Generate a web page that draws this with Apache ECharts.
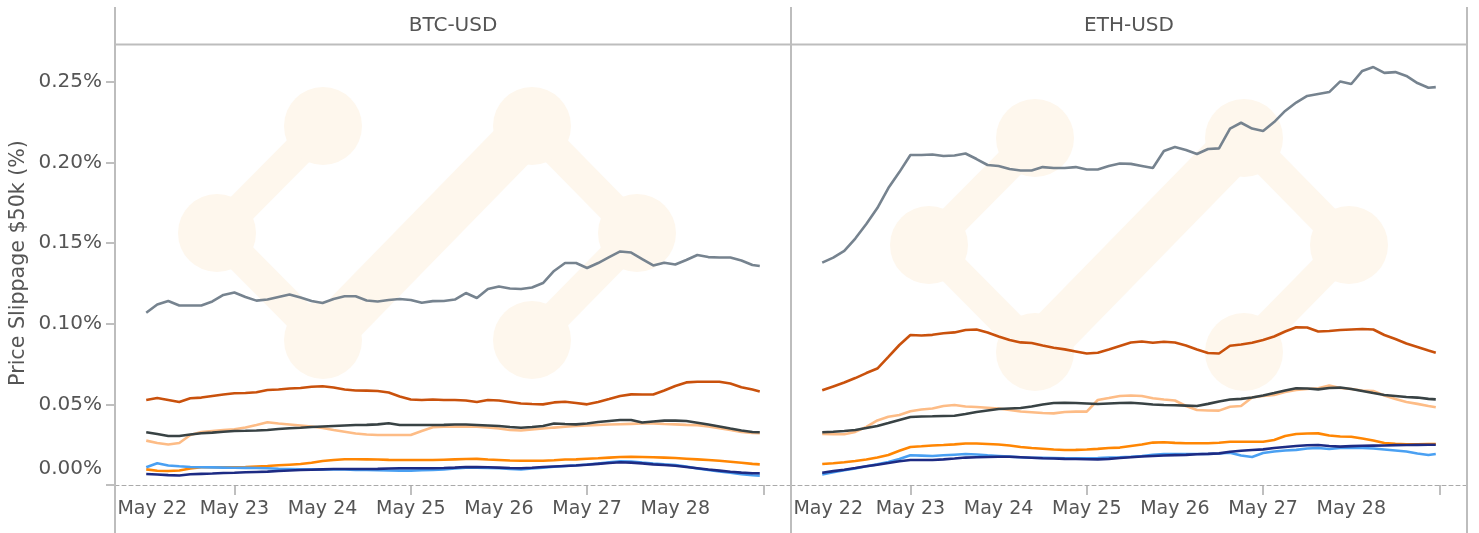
<!DOCTYPE html>
<html>
<head>
<meta charset="utf-8">
<script src="https://cdn.jsdelivr.net/npm/echarts@6/dist/echarts.min.js"></script>
<style>html,body{margin:0;padding:0;background:#fff}#c{width:1479px;height:533px}</style>
</head>
<body>
<div id="c"></div>
<script>
// Panels
const PAIRS = ['BTC-USD', 'ETH-USD'];
// Day labels on the x axis
const X_TICK_LABELS = ['May 22', 'May 23', 'May 24', 'May 25', 'May 26', 'May 27', 'May 28'];
// y tick values (in %)
const Y_TICKS = [0, 0.05, 0.10, 0.15, 0.20, 0.25];
// sample times: hours after May 22 00:00
const HOURS = [0,3,6,9,12,15,18,21,24,27,30,33,36,39,42,45,48,51,54,57,60,63,66,69,72,75,78,81,84,87,90,93,96,99,102,105,108,111,114,117,120,123,126,129,132,135,138,141,144,147,150,153,156,159,162,165,167];

// BTC-USD series (price slippage, %)
const BTC_GRAY = [0.1068,0.1119,0.1141,0.1113,0.1113,0.1113,0.1138,0.1178,0.1193,0.1166,
0.1143,0.1150,0.1166,0.1181,0.1162,0.1141,0.1128,0.1153,0.1170,0.1170,
0.1144,0.1138,0.1147,0.1153,0.1147,0.1130,0.1140,0.1141,0.1150,0.1190,
0.1159,0.1215,0.1231,0.1218,0.1215,0.1224,0.1252,0.1327,0.1376,0.1376,
0.1345,0.1376,0.1413,0.1448,0.1441,0.1401,0.1361,0.1378,0.1367,0.1395,
0.1426,0.1413,0.1410,0.1410,0.1392,0.1364,0.1358];
const BTC_DKORANGE = [0.0527,0.0539,0.0527,0.0515,0.0538,0.0542,0.0552,0.0561,0.0569,0.0570,
0.0575,0.0589,0.0592,0.0598,0.0601,0.0609,0.0612,0.0604,0.0592,0.0586,
0.0585,0.0583,0.0573,0.0549,0.0530,0.0527,0.0530,0.0527,0.0527,0.0524,
0.0515,0.0527,0.0524,0.0515,0.0505,0.0502,0.0500,0.0512,0.0516,0.0508,
0.0500,0.0515,0.0533,0.0552,0.0562,0.0561,0.0561,0.0586,0.0614,0.0636,
0.0640,0.0640,0.0640,0.0629,0.0606,0.0592,0.0580];
const BTC_PEACH = [0.0275,0.0260,0.0251,0.0260,0.0310,0.0329,0.0335,0.0341,0.0346,0.0356,
0.0372,0.0389,0.0381,0.0375,0.0369,0.0363,0.0353,0.0341,0.0330,0.0319,
0.0313,0.0310,0.0310,0.0310,0.0310,0.0335,0.0358,0.0361,0.0362,0.0362,
0.0362,0.0356,0.0350,0.0341,0.0338,0.0344,0.0350,0.0356,0.0361,0.0366,
0.0369,0.0372,0.0375,0.0377,0.0379,0.0381,0.0381,0.0378,0.0376,0.0373,
0.0371,0.0363,0.0352,0.0341,0.0329,0.0322,0.0321];
const BTC_DKGRAY = [0.0327,0.0316,0.0304,0.0304,0.0313,0.0321,0.0325,0.0330,0.0335,0.0336,
0.0338,0.0341,0.0347,0.0352,0.0355,0.0360,0.0363,0.0366,0.0369,0.0372,
0.0373,0.0376,0.0383,0.0372,0.0372,0.0372,0.0372,0.0373,0.0375,0.0375,
0.0372,0.0369,0.0366,0.0360,0.0355,0.0360,0.0366,0.0381,0.0378,0.0376,
0.0381,0.0391,0.0397,0.0403,0.0403,0.0387,0.0394,0.0399,0.0399,0.0397,
0.0386,0.0375,0.0363,0.0350,0.0338,0.0329,0.0327];
const BTC_ORANGE = [0.0097,0.0088,0.0087,0.0090,0.0102,0.0110,0.0110,0.0110,0.0110,0.0112,
0.0115,0.0118,0.0122,0.0126,0.0130,0.0138,0.0149,0.0155,0.0160,0.0160,
0.0159,0.0158,0.0156,0.0155,0.0155,0.0155,0.0155,0.0157,0.0159,0.0161,
0.0162,0.0158,0.0155,0.0152,0.0150,0.0150,0.0150,0.0153,0.0158,0.0159,
0.0163,0.0166,0.0170,0.0174,0.0175,0.0174,0.0172,0.0170,0.0167,0.0163,
0.0159,0.0155,0.0150,0.0144,0.0138,0.0131,0.0128];
const BTC_BLUE = [0.0110,0.0135,0.0121,0.0116,0.0112,0.0110,0.0109,0.0108,0.0107,0.0106,
0.0105,0.0104,0.0101,0.0099,0.0097,0.0097,0.0097,0.0097,0.0096,0.0094,
0.0093,0.0092,0.0090,0.0089,0.0089,0.0091,0.0093,0.0096,0.0102,0.0108,
0.0107,0.0105,0.0104,0.0100,0.0097,0.0102,0.0108,0.0113,0.0118,0.0122,
0.0127,0.0133,0.0141,0.0147,0.0146,0.0139,0.0133,0.0128,0.0124,0.0115,
0.0102,0.0093,0.0084,0.0076,0.0067,0.0060,0.0058];
const BTC_NAVY = [0.0068,0.0065,0.0061,0.0059,0.0067,0.0069,0.0071,0.0074,0.0076,0.0079,
0.0081,0.0083,0.0087,0.0090,0.0093,0.0095,0.0097,0.0099,0.0099,0.0099,
0.0099,0.0100,0.0102,0.0104,0.0104,0.0104,0.0104,0.0105,0.0108,0.0112,
0.0111,0.0110,0.0108,0.0105,0.0104,0.0107,0.0112,0.0115,0.0118,0.0121,
0.0126,0.0131,0.0136,0.0141,0.0139,0.0134,0.0128,0.0124,0.0119,0.0112,
0.0104,0.0096,0.0089,0.0082,0.0077,0.0073,0.0073];

// ETH-USD series (price slippage, %)
const ETH_GRAY = [0.1379,0.1410,0.1451,0.1528,0.1618,0.1717,0.1841,0.1940,0.2046,0.2046,
0.2049,0.2040,0.2043,0.2055,0.2021,0.1984,0.1978,0.1959,0.1950,0.1950,
0.1971,0.1965,0.1965,0.1971,0.1956,0.1956,0.1978,0.1993,0.1991,0.1978,
0.1965,0.2071,0.2095,0.2077,0.2052,0.2083,0.2087,0.2210,0.2246,0.2210,
0.2195,0.2250,0.2319,0.2371,0.2412,0.2424,0.2436,0.2502,0.2486,0.2567,
0.2591,0.2555,0.2560,0.2536,0.2492,0.2463,0.2467];
const ETH_DKORANGE = [0.0587,0.0611,0.0635,0.0663,0.0694,0.0722,0.0794,0.0868,0.0930,0.0927,
0.0931,0.0941,0.0946,0.0961,0.0964,0.0946,0.0921,0.0899,0.0884,0.0880,
0.0865,0.0851,0.0841,0.0828,0.0815,0.0820,0.0840,0.0862,0.0883,0.0890,
0.0882,0.0888,0.0883,0.0865,0.0840,0.0818,0.0815,0.0863,0.0871,0.0882,
0.0899,0.0921,0.0952,0.0978,0.0976,0.0952,0.0955,0.0961,0.0964,0.0967,
0.0964,0.0930,0.0905,0.0877,0.0856,0.0834,0.0820];
const ETH_PEACH = [0.0316,0.0315,0.0315,0.0329,0.0360,0.0400,0.0423,0.0434,0.0457,0.0468,
0.0474,0.0490,0.0496,0.0487,0.0484,0.0479,0.0474,0.0465,0.0456,0.0451,
0.0446,0.0444,0.0453,0.0455,0.0455,0.0527,0.0539,0.0552,0.0555,0.0552,
0.0538,0.0530,0.0524,0.0490,0.0465,0.0462,0.0461,0.0485,0.0490,0.0542,
0.0552,0.0558,0.0577,0.0589,0.0595,0.0600,0.0617,0.0601,0.0595,0.0586,
0.0583,0.0555,0.0533,0.0515,0.0503,0.0490,0.0482];
const ETH_DKGRAY = [0.0327,0.0330,0.0335,0.0341,0.0353,0.0366,0.0384,0.0403,0.0422,0.0425,
0.0426,0.0428,0.0429,0.0440,0.0453,0.0462,0.0471,0.0474,0.0477,0.0487,
0.0499,0.0508,0.0510,0.0508,0.0505,0.0502,0.0505,0.0508,0.0510,0.0505,
0.0499,0.0496,0.0494,0.0492,0.0490,0.0503,0.0518,0.0530,0.0534,0.0542,
0.0555,0.0570,0.0586,0.0600,0.0598,0.0593,0.0601,0.0604,0.0595,0.0583,
0.0570,0.0558,0.0552,0.0546,0.0542,0.0534,0.0531];
const ETH_ORANGE = [0.0130,0.0135,0.0141,0.0149,0.0158,0.0170,0.0186,0.0212,0.0236,0.0240,
0.0245,0.0248,0.0252,0.0257,0.0257,0.0254,0.0251,0.0245,0.0236,0.0229,
0.0225,0.0220,0.0217,0.0218,0.0220,0.0224,0.0229,0.0232,0.0242,0.0251,
0.0263,0.0265,0.0261,0.0259,0.0259,0.0259,0.0262,0.0268,0.0268,0.0268,
0.0268,0.0279,0.0304,0.0316,0.0319,0.0320,0.0307,0.0301,0.0299,0.0288,
0.0276,0.0260,0.0255,0.0252,0.0252,0.0254,0.0254];
const ETH_BLUE = [0.0066,0.0079,0.0091,0.0102,0.0116,0.0128,0.0143,0.0161,0.0184,0.0182,
0.0180,0.0184,0.0188,0.0192,0.0189,0.0184,0.0180,0.0176,0.0172,0.0169,
0.0168,0.0167,0.0166,0.0166,0.0166,0.0167,0.0170,0.0172,0.0175,0.0180,
0.0187,0.0192,0.0192,0.0192,0.0192,0.0192,0.0195,0.0200,0.0183,0.0174,
0.0198,0.0208,0.0214,0.0218,0.0226,0.0229,0.0223,0.0229,0.0231,0.0229,
0.0226,0.0220,0.0214,0.0208,0.0195,0.0186,0.0192];
const ETH_NAVY = [0.0076,0.0086,0.0095,0.0105,0.0116,0.0126,0.0136,0.0147,0.0155,0.0155,
0.0155,0.0159,0.0164,0.0170,0.0172,0.0174,0.0175,0.0175,0.0172,0.0169,
0.0166,0.0164,0.0162,0.0161,0.0160,0.0159,0.0162,0.0167,0.0172,0.0177,
0.0180,0.0183,0.0185,0.0187,0.0191,0.0193,0.0196,0.0206,0.0212,0.0217,
0.0221,0.0229,0.0236,0.0242,0.0246,0.0248,0.0242,0.0238,0.0241,0.0243,
0.0244,0.0245,0.0247,0.0248,0.0249,0.0250,0.0250];

const SERIES_COLORS = ['#76838f', '#c9510c', '#fdbc86', '#384244', '#ff8603', '#4aa0f2', '#1d2b84'];
const PANEL_DATA = [
  [BTC_GRAY, BTC_DKORANGE, BTC_PEACH, BTC_DKGRAY, BTC_ORANGE, BTC_BLUE, BTC_NAVY],
  [ETH_GRAY, ETH_DKORANGE, ETH_PEACH, ETH_DKGRAY, ETH_ORANGE, ETH_BLUE, ETH_NAVY]
];

// hourly category slots, May 21 16:00 .. May 29 07:00 (scale padding around the data)
const START_HOUR = 16, START_DAY = 21, N_SLOTS = 184;
const OFFSET = 24 - START_HOUR; // slot index of May 22 00:00
const CATS = [];
for (let i = 0; i < N_SLOTS; i++) {
  const t = START_HOUR + i;
  CATS.push('May ' + (START_DAY + Math.floor(t / 24)) + ' ' + (t % 24) + ':00');
}
const slotDay = i => START_DAY + Math.floor((START_HOUR + i) / 24);
const slotHour = i => (START_HOUR + i) % 24;

const FONT = 'DejaVu Sans';
const TXT = '#555';
const FRAME = '#bdbdbd';
const WM = '#fef7ed';

const dom = document.getElementById('c');
const chart = echarts.init(dom, null, { renderer: 'canvas' });

const grids = [
  { left: 115, top: 44.5, width: 676, height: 440.5 },
  { left: 791, top: 44.5, width: 676, height: 440.5 }
];

const X_FS = 19, Y_FS = 20;

const xAxes = grids.map((g, gi) => ({
  type: 'category', gridIndex: gi, data: CATS, boundaryGap: true,
  axisLine: { show: true, lineStyle: { color: '#aaa', width: 1, type: [4, 3] } },
  axisTick: {
    show: true, alignWithLabel: true, length: 10,
    interval: (idx) => slotHour(idx) === 0 && slotDay(idx) % 2 === 1,
    lineStyle: { color: '#aaa', width: 1.5 }
  },
  axisLabel: {
    show: true, margin: 15, color: TXT, fontSize: X_FS, fontFamily: FONT,
    interval: (idx) => slotHour(idx) === 0 && slotDay(idx) >= 22 && slotDay(idx) <= 28,
    formatter: (val, idx) => {
      const s = X_TICK_LABELS[slotDay(idx) - 22];
      return slotDay(idx) === 22 ? '{f|' + s + '}' : s;
    },
    rich: { f: { padding: [0, 0, 0, 12], color: TXT, fontSize: X_FS, fontFamily: FONT } }
  },
  splitLine: { show: false }
}));

const yAxes = grids.map((g, gi) => ({
  type: 'value', gridIndex: gi, min: 0, max: 0.2731, interval: 0.05,
  axisLine: { show: false },
  splitLine: { show: false },
  axisTick: gi === 0 ? { show: true, length: 9, customValues: Y_TICKS, lineStyle: { color: '#aaa', width: 1.5 } } : { show: false },
  axisLabel: gi === 0 ? {
    show: true, margin: 13, color: TXT, fontSize: Y_FS, fontFamily: FONT, customValues: Y_TICKS,
    formatter: v => (v === 0 ? '{z|0.00%}' : v.toFixed(2) + '%'),
    rich: { z: { padding: [0, 0, 32, 0], color: TXT, fontSize: Y_FS, fontFamily: FONT } }
  } : { show: false }
}));

const series = [];
PANEL_DATA.forEach((arrs, gi) => {
  arrs.forEach((arr, si) => {
    series.push({
      type: 'line', xAxisIndex: gi, yAxisIndex: gi,
      data: HOURS.map((h, k) => [OFFSET + h, arr[k]]),
      showSymbol: false, symbol: 'none', smooth: false, z: 3 + si,
      lineStyle: { color: SERIES_COLORS[si], width: 2.6 },
      itemStyle: { color: SERIES_COLORS[si] },
      silent: true
    });
  });
});

// watermark logo (decoration)
function logo(cx, cy) {
  const n = {
    L: [cx - 210, cy], LT: [cx - 104, cy - 107], LB: [cx - 104, cy + 107],
    RT: [cx + 105, cy - 107], RB: [cx + 105, cy + 107], R: [cx + 210, cy]
  };
  const els = [];
  const seg = (a, b, w) => els.push({ type: 'line', silent: true, z: -10,
    shape: { x1: a[0], y1: a[1], x2: b[0], y2: b[1] },
    style: { stroke: WM, lineWidth: w, lineCap: 'round' } });
  seg(n.LT, n.L, 31); seg(n.L, n.LB, 31); seg(n.LB, n.RT, 48);
  seg(n.RT, n.R, 31); seg(n.R, n.RB, 31);
  Object.keys(n).forEach(k => els.push({ type: 'circle', silent: true, z: -9,
    shape: { cx: n[k][0], cy: n[k][1], r: 39 }, style: { fill: WM } }));
  return els;
}

const frame = [];
const vline = (x) => frame.push({ type: 'line', silent: true, z: 50,
  shape: { x1: x, y1: 7, x2: x, y2: 533 }, style: { stroke: FRAME, lineWidth: 2 } });
vline(115); vline(791); vline(1467);
frame.push({ type: 'line', silent: true, z: 50, shape: { x1: 115, y1: 44.5, x2: 1467, y2: 44.5 },
  style: { stroke: FRAME, lineWidth: 2 } });

const HFONT = '20px "' + FONT + '"';
const texts = [
  { type: 'text', x: 453, y: 26, silent: true, z: 50,
    style: { text: PAIRS[0], fill: TXT, font: HFONT, align: 'center', verticalAlign: 'middle' } },
  { type: 'text', x: 1129, y: 26, silent: true, z: 50,
    style: { text: PAIRS[1], fill: TXT, font: HFONT, align: 'center', verticalAlign: 'middle' } },
  { type: 'text', x: 19, y: 263, rotation: Math.PI / 2, silent: true, z: 50,
    style: { text: 'Price Slippage $50k (%)', fill: TXT, font: '20.6px "' + FONT + '"', align: 'center', verticalAlign: 'middle' } }
];

chart.setOption({
  animation: false,
  backgroundColor: '#fff',
  grid: grids,
  xAxis: xAxes,
  yAxis: yAxes,
  series: series,
  graphic: { elements: [].concat(logo(427, 233), logo(1139, 245), frame, texts) }
});
</script>
</body>
</html>
